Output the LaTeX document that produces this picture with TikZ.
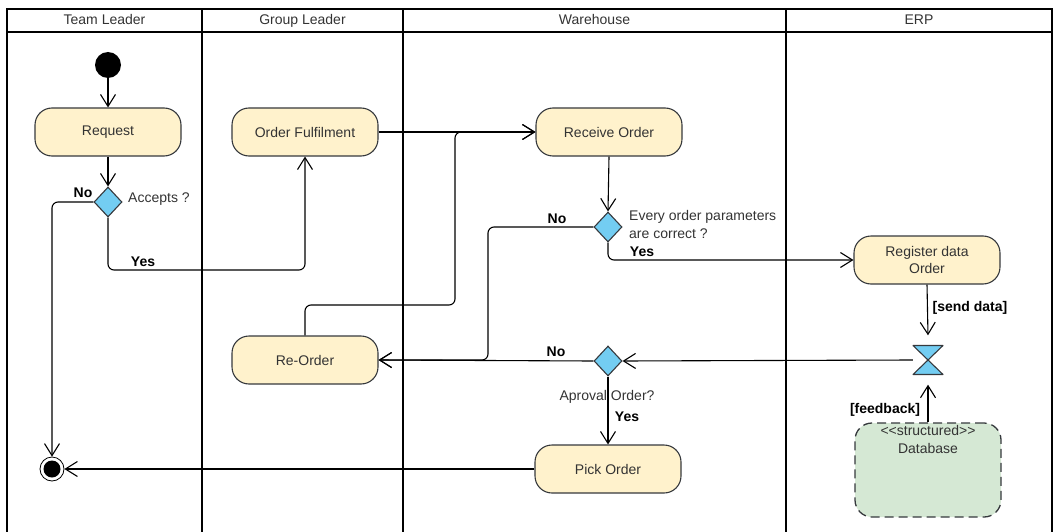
\documentclass[tikz,border=0pt]{standalone}
\usepackage{fontspec}
\setmainfont{Liberation Sans}
\usetikzlibrary{arrows.meta,shapes.geometric}
\definecolor{actfill}{HTML}{FFF2CC}
\definecolor{actline}{HTML}{36393D}
\definecolor{decfill}{HTML}{73CDF2}
\definecolor{dbfill}{HTML}{D5E8D4}
\definecolor{txt}{HTML}{333333}

\begin{document}
\begin{tikzpicture}[x=1pt,y=-1pt,
  font=\fontsize{14}{17}\selectfont,
  action/.style={draw=actline, fill=actfill, rounded corners=17pt,
    minimum width=146pt, minimum height=48pt, line width=1.1pt,
    text=txt, align=center, inner sep=2pt},
  decision/.style={diamond, draw=actline, fill=decfill, minimum width=28pt,
    minimum height=30pt, inner sep=0pt, line width=1.1pt},
  flow/.style={draw=black, line width=1.1pt, rounded corners=6pt,
    -{Straight Barb[length=12pt,width=15pt,line width=1.1pt]}},
  lane/.style={line width=2.2pt, line cap=rect},
  head/.style={text=txt, text height=10pt, text depth=3pt},
  guard/.style={font=\fontsize{14}{17}\selectfont\bfseries, text=black, inner sep=1pt},
  note/.style={text=txt, inner sep=1pt}
]
\useasboundingbox (0,0) rectangle (1054,532);

% swimlane frame
\draw[lane] (7,532) -- (7,9) -- (1052,9) -- (1052,532);
\draw[lane] (7,32) -- (1052,32);
\draw[lane] (202,9) -- (202,532);
\draw[lane] (403,9) -- (403,532);
\draw[lane] (786,9) -- (786,532);
\node[head] (hTeam)  at (104.5,21) {Team Leader};
\node[head] (hGroup) at (302.5,21) {Group Leader};
\node[head] (hWare)  at (594.5,21) {Warehouse};
\node[head] (hErp)   at (919,21)   {ERP};

% nodes
\node[circle, fill=black, minimum size=26pt, inner sep=0] (start) at (108,65) {};
\node[action] (req)  at (108,132) {Request};
\node[decision] (acc) at (108,202) {};
\node[action] (of)   at (305,132) {Order Fulfilment};
\node[action] (ro)   at (609,132) {Receive Order};
\node[decision] (chk) at (608,227) {};
\node[action] (reg)  at (927,260) {Register data\\Order};
\node[action] (reo)  at (305,360) {Re-Order};
\node[decision] (apr) at (608,361) {};
\node[action] (pick) at (608,469) {Pick Order};
\node[draw=black, line width=0.8pt, circle, fill=white, minimum size=24pt, inner sep=0] (fin) at (52,469) {};
\fill[black] (fin.center) circle (8.5);

% join / fork bar drawn as an hourglass
\node[minimum width=30pt, minimum height=49pt, inner sep=0] (hg) at (928,360) {};
\filldraw[draw=actline, fill=decfill, line width=1.1pt, line join=round]
  (hg.center) ++(-15,-14.5) -- ++(30,0) -- ++(-30,29) -- ++(30,0) -- cycle;

% data store
\node[draw=actline, fill=dbfill, rounded corners=17pt, line width=1.3pt,
  dash pattern=on 9pt off 5pt, minimum width=146pt, minimum height=94pt] (db) at (928,470) {};
\node[note, anchor=north, align=center, font=\fontsize{14}{18}\selectfont] (dbtext) at ([yshift=-2pt]db.north)
  {<\kern0pt<structured>\kern0pt>\\Database};

% bend points
\coordinate (accNo)  at (52,202);
\coordinate (accYes) at (108,270);
\coordinate (chkNo)  at (488,227);
\coordinate (reoUp)  at (455,305);

% connectors
\draw[flow] (start) -- (req);
\draw[flow] (req) -- (acc);
\draw[flow] (acc.west) -- (accNo) -- (fin.north);
\draw[flow] (acc.south) -- (accYes) -| (of.south);
\draw[flow] (of.east) -- (ro.west);
\draw[flow] (reo.north) |- (reoUp) |- (ro.west);
\draw[flow] (ro.south) -- (chk.north);
\draw[flow] (chk.west) -- (chkNo) |- (reo.east);
\draw[flow] (chk.south) |- (reg.west);
\draw[flow] (reg.south) -- (hg.north);
\draw[flow] (db.north) -- (hg.south);
\draw[flow] (hg.west) -- (apr.east);
\draw[flow] (apr.west) -- (reo.east);
\draw[flow] (apr.south) -- (pick.north);
\draw[flow] (pick.west) -- (fin.east);

% labels
\node[guard] (lAccNo)  at (83,193)  {No};
\node[guard] (lAccYes) at (143,262) {Yes};
\node[note, anchor=west] (lAcc) at (127,199) {Accepts ?};
\node[guard] (lChkNo)  at (557,219) {No};
\node[guard] (lChkYes) at (642,252) {Yes};
\node[note, anchor=west, align=left, font=\fontsize{14}{18}\selectfont] (lChk) at (628,224)
  {Every order parameters\\are correct ?};
\node[guard] (lAprNo)  at (556,352) {No};
\node[note] (lApr) at (607,397) {Aproval Order?};
\node[guard] (lAprYes) at (627,417) {Yes};
\node[guard] (lSend) at (970,308) {[send data]};
\node[guard] (lFeed) at (885,410) {[feedback]};
\end{tikzpicture}
\end{document}
